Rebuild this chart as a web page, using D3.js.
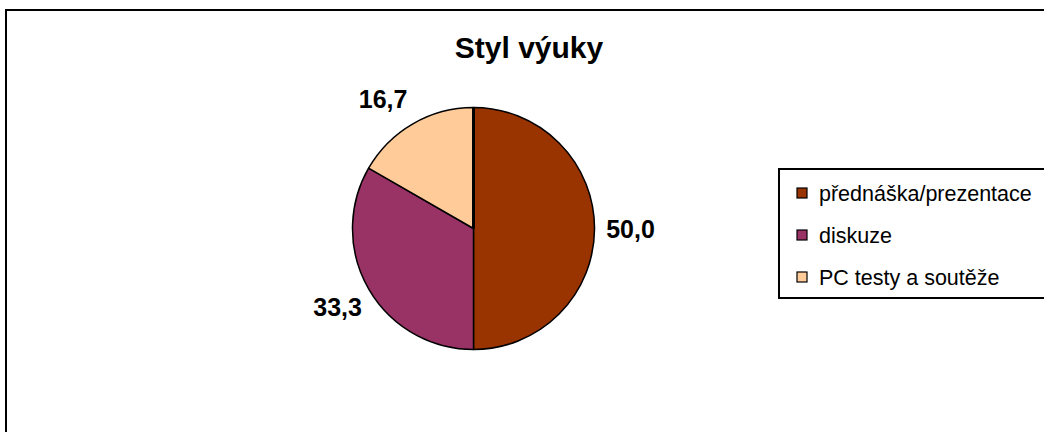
<!DOCTYPE html>
<html>
<head>
<meta charset="utf-8">
<script src="https://cdn.jsdelivr.net/npm/d3@7"></script>
<style>
  body { margin: 0; background: #fff; }
  svg { display: block; font-family: "Liberation Sans", Arial, sans-serif; }
</style>
</head>
<body>
<script>
const categories = ["přednáška/prezentace", "diskuze", "PC testy a soutěže"];
const values = [50.0, 33.3, 16.7];
const colors = ["#993300", "#993366", "#FFCC99"];
const title = "Styl výuky";

const width = 1044, height = 432;
const cx = 473.5, cy = 228.5, radius = 121;

const svg = d3.select("body").append("svg")
	.attr("width", width)
	.attr("height", height);

// chart border (runs off the right and bottom)
svg.append("rect")
	.attr("x", 6)
	.attr("y", 10)
	.attr("width", width + 20)
	.attr("height", height + 20)
	.attr("fill", "#fff")
	.attr("stroke", "#000")
	.attr("stroke-width", 2);

svg.append("text")
	.attr("x", 529)
	.attr("y", 58)
	.attr("text-anchor", "middle")
	.attr("font-size", 30)
	.attr("font-weight", "bold")
	.text(title);

const data = categories.map((c, i) => ({ name: c, value: values[i], color: colors[i] }));

const pie = d3.pie().sort(null).value(d => d.value);
const arc = d3.arc().innerRadius(0).outerRadius(radius);
const labelArc = d3.arc().innerRadius(radius + 36).outerRadius(radius + 36);
const fmt = v => d3.format(".1f")(v).replace(".", ",");

const pieG = svg.append("g").attr("transform", `translate(${cx},${cy})`);
const arcs = pie(data);

pieG.selectAll("path.slice")
	.data(arcs)
	.join("path")
	.attr("class", "slice")
	.attr("d", arc)
	.attr("fill", d => d.data.color)
	.attr("stroke", "#000")
	.attr("stroke-width", 1.5)
	.attr("stroke-linejoin", "round");

// slightly heavier seam at 12 o'clock
pieG.append("line")
	.attr("x1", 0).attr("y1", 0)
	.attr("x2", 0).attr("y2", -radius)
	.attr("stroke", "#000")
	.attr("stroke-width", 3);

// labels: centroid on an outer ring, nudged sideways for the upper slices
pieG.selectAll("text.lbl")
	.data(arcs)
	.join("text")
	.attr("class", "lbl")
	.attr("transform", d => {
		const [x, y] = labelArc.centroid(d);
		const nudge = y < -60 ? 0.15 * x : 0;
		return `translate(${x + nudge},${y + (y < -60 ? 6 : 0)})`;
	})
	.attr("text-anchor", "middle")
	.attr("dy", "0.36em")
	.attr("font-size", 25)
	.attr("font-weight", "bold")
	.text(d => fmt(d.data.value));

// legend
const legend = svg.append("g").attr("transform", "translate(779,169)");
legend.append("rect")
	.attr("x", 0)
	.attr("y", 0)
	.attr("width", 300)
	.attr("height", 129)
	.attr("fill", "#fff")
	.attr("stroke", "#000")
	.attr("stroke-width", 2);

const rowY = d3.scalePoint().domain(categories).range([24, 108]);
const rows = legend.selectAll("g.row")
	.data(data)
	.join("g")
	.attr("class", "row")
	.attr("transform", d => `translate(0,${rowY(d.name)})`);

rows.append("rect")
	.attr("x", 18)
	.attr("y", -5)
	.attr("width", 10)
	.attr("height", 10)
	.attr("fill", d => d.color)
	.attr("stroke", "#000")
	.attr("stroke-width", 1.2);

rows.append("text")
	.attr("x", 40)
	.attr("dy", "0.35em")
	.attr("font-size", 21.5)
	.text(d => d.name);
</script>
</body>
</html>
